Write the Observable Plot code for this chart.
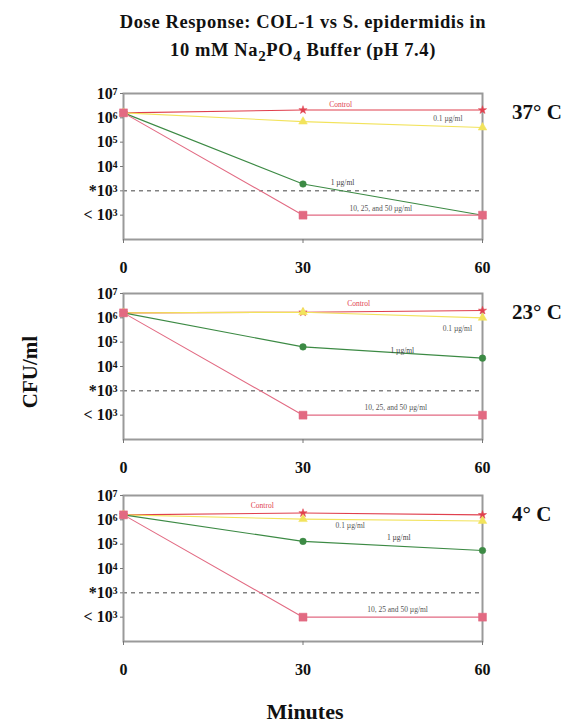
<!DOCTYPE html>
<html>
<head>
<meta charset="utf-8">
<script src="https://cdn.jsdelivr.net/npm/d3@7"></script>
<script src="https://cdn.jsdelivr.net/npm/@observablehq/plot@0.6"></script>
<style>
  body { margin: 0; background: #fff; }
  #wrap { position: relative; width: 571px; height: 723px; font-family: "Liberation Serif", "DejaVu Serif", serif; font-weight: bold; color: #111; }
  .abs { position: absolute; white-space: nowrap; }
  #title { left: 0; width: 606px; top: 8px; text-align: center; font-size: 18.5px; letter-spacing: 0.6px; line-height: 28px; }
  .temp { font-size: 21px; }
  #ylab { font-size: 21px; left: 30px; top: 372px; transform: translate(-50%, -50%) rotate(-90deg); }
  #xlab { font-size: 22px; left: 305px; top: 712px; transform: translate(-50%, -50%); }
  .panel { position: absolute; left: 0; }
</style>
</head>
<body>
<div id="wrap">
  <div id="title" class="abs">Dose Response: COL-1 vs S. epidermidis in<br>10 mM Na<sub style="font-size:15px">2</sub>PO<sub style="font-size:15px">4</sub> Buffer (pH 7.4)</div>
  <div id="ylab" class="abs">CFU/ml</div>
  <div id="xlab" class="abs">Minutes</div>
</div>
<script>
// ---- data ----
const minutes = [0, 30, 60];
const temperatures = ["37° C", "23° C", "4° C"];
const seriesNames = ["Control", "0.1 µg/ml", "1 µg/ml", "10, 25, and 50 µg/ml"];
const seriesNames4C = ["Control", "0.1 µg/ml", "1 µg/ml", "10, 25 and 50 µg/ml"];
// CFU/ml per temperature panel (37, 23, 4 °C); "< 10³" plotted at 100
const controlCFU = [[1.6e6, 2.1e6, 2.1e6], [1.6e6, 1.7e6, 2.0e6], [1.6e6, 1.9e6, 1.6e6]];
const dose01CFU  = [[1.6e6, 7.0e5, 4.0e5], [1.6e6, 1.7e6, 1.0e6], [1.6e6, 1.07e6, 9.0e5]];
const dose1CFU   = [[1.6e6, 1.9e3, 100],   [1.6e6, 6.4e4, 2.2e4], [1.6e6, 1.3e5, 5.5e4]];
const dose10CFU  = [[1.6e6, 100, 100],     [1.6e6, 100, 100],     [1.6e6, 100, 100]];
const detectionLimit = 1e3;
const yTicks = [1e7, 1e6, 1e5, 1e4, 1e3, 1e2];
const yTickLabels = ["10⁷", "10⁶", "10⁵", "10⁴", "*10³", "< 10³"];
const xTicks = [0, 30, 60];
// in-plot series labels: [minute, CFU] anchors per panel, per series
const labelMinute = [[36.3, 54.2, 36.6, 43.0], [39.3, 55.8, 46.6, 45.5], [23.2, 37.9, 46.0, 45.8]];
const labelCFU    = [[3.4e6, 9.0e5, 2.1e3, 190], [3.9e6, 3.7e5, 4.7e4, 200], [3.9e6, 5.7e5, 1.8e5, 210]];

// ---- styles ----
const seriesValues = [controlCFU, dose01CFU, dose1CFU, dose10CFU];
const seriesStyle = [
  {color: "#e0404e", symbol: "star", r: 2.6, label: "#e0404e"},
  {color: "#f2e35c", symbol: "triangle", r: 3.2, label: "#555"},
  {color: "#3c8a44", symbol: "circle", r: 3.3, label: "#444"},
  {color: "#e26a82", symbol: "square", r: 4.5, label: "#555"}
];
const panelTops = [83, 283, 485];
const tempTops = [100, 300, 502];

const wrap = document.getElementById("wrap");
temperatures.forEach((t, p) => {
  const rows = [];
  seriesValues.forEach((vals, s) => minutes.forEach((m, i) => rows.push({series: s, minute: m, cfu: vals[p][i]})));
  const names = p === 2 ? seriesNames4C : seriesNames;
  const labels = names.map((n, s) => ({text: n, series: s, minute: labelMinute[p][s], cfu: labelCFU[p][s]}));
  const marks = [
    Plot.ruleY([detectionLimit], {stroke: "#444", strokeWidth: 1, strokeDasharray: "4,4"}),
    Plot.frame({stroke: "#9a9a9a", strokeWidth: 2})
  ];
  seriesStyle.forEach((st, s) => {
    const d = rows.filter(r => r.series === s);
    marks.push(Plot.line(d, {x: "minute", y: "cfu", stroke: st.color, strokeWidth: 1.1}));
  });
  seriesStyle.forEach((st, s) => {
    const d = rows.filter(r => r.series === s);
    marks.push(Plot.dot(d, {x: "minute", y: "cfu", symbol: () => st.symbol, r: st.r, fill: st.color, stroke: st.color, strokeWidth: 0.5}));
  });
  marks.push(Plot.text(labels, {x: "minute", y: "cfu", text: "text", fill: d => seriesStyle[d.series].label,
    fontSize: 7.5, fontWeight: "normal", fontFamily: "Liberation Serif"}));
  marks.push(Plot.axisX({ticks: xTicks, tickSize: 4, tickPadding: 18, tickFormat: d => String(d), label: null, stroke: "#777"}));
  marks.push(Plot.axisY({ticks: yTicks, tickSize: 3, tickPadding: 3, tickFormat: d => yTickLabels[yTicks.indexOf(d)], label: null, stroke: "#777"}));
  const chart = Plot.plot({
    width: 571, height: 196,
    marginLeft: 123, marginRight: 89, marginTop: 10, marginBottom: 40,
    x: {domain: [0, 60]},
    y: {type: "log", domain: [10, 1e7]},
    symbol: {type: "identity"},
    style: {fontFamily: "Liberation Serif", fontSize: "16px", fontWeight: "bold", color: "#111", background: "transparent"},
    marks
  });
  chart.classList.add("panel");
  chart.style.top = panelTops[p] + "px";
  wrap.appendChild(chart);
  const tl = document.createElement("div");
  tl.className = "abs temp";
  tl.textContent = t;
  tl.style.left = "512px";
  tl.style.top = tempTops[p] + "px";
  wrap.appendChild(tl);
});
</script>
</body>
</html>
